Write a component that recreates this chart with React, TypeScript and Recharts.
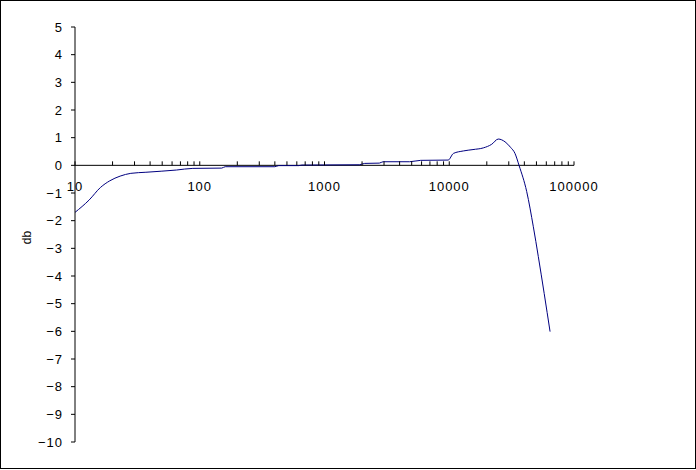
import React from 'react';
import { LineChart, Line, XAxis, YAxis, Scatter, ReferenceLine } from 'recharts';

// measured response (Hz, dB)
const freqs = [
  10, 13, 16, 19, 23, 28, 37, 65, 88, 150, 160, 400, 430, 620, 660, 1900, 2100, 2750, 2950,
  4800, 5900, 9800, 10800, 12970, 15500, 18750, 21880, 24700, 28000, 31000, 33650, 36250,
  41780, 47210, 51760, 64290,
];
const dbValues = [
  -1.7, -1.25, -0.8, -0.56, -0.39, -0.29, -0.25, -0.17, -0.11, -0.1, -0.05, -0.05, -0.01, -0.01,
  0.01, 0.02, 0.07, 0.08, 0.13, 0.13, 0.18, 0.19, 0.43, 0.52, 0.57, 0.63, 0.76, 0.95, 0.85,
  0.65, 0.43, 0.0, -0.95, -2.22, -3.3, -6.01,
];

const yTicks = [-10, -9, -8, -7, -6, -5, -4, -3, -2, -1, 0, 1, 2, 3, 4, 5];
const majorTicks = [10, 100, 1000, 10000, 100000];
const minorTicks = [
  20, 30, 40, 50, 60, 70, 80, 90,
  200, 300, 400, 500, 600, 700, 800, 900,
  2000, 3000, 4000, 5000, 6000, 7000, 8000, 9000,
  20000, 30000, 40000, 50000, 60000, 70000, 80000, 90000,
];

const data = freqs.map((f, i) => ({ f, db: dbValues[i] }));
const minorData = minorTicks.map((f) => ({ f, db: 0 }));
const majorData = majorTicks.map((f) => ({ f, db: 0 }));

const font = '"Liberation Sans", Arial, sans-serif';

const MinorTick = (props: any) => {
  const { cx, cy } = props;
  return <line x1={cx} x2={cx} y1={cy} y2={cy - 4} stroke="#000" strokeWidth={1} />;
};

const MajorTick = (props: any) => {
  const { cx, cy, payload } = props;
  return (
    <g>
      <line x1={cx} x2={cx} y1={cy} y2={cy - 4} stroke="#000" strokeWidth={1} />
      <text
        x={cx}
        y={cy + 21}
        dy="0.355em"
        textAnchor="middle"
        fontSize={13}
        fontFamily={font}
        letterSpacing={1}
        fill="#000"
      >
        {payload.f}
      </text>
    </g>
  );
};

const fmtY = (v: number) => (v < 0 ? '\u2212' + Math.abs(v) : String(v));

const DbLabel = (props: any) => {
  const { viewBox } = props;
  const x = viewBox.x + 27;
  const y = viewBox.y + viewBox.height / 2 + 3;
  return (
    <text
      x={x}
      y={y}
      dy="0.355em"
      textAnchor="middle"
      fontSize={12}
      fontFamily={font}
      fill="#000"
      transform={`rotate(-90, ${x}, ${y})`}
    >
      db
    </text>
  );
};

export default function App() {
  return (
    <div style={{ position: 'relative', width: 696, height: 470, background: '#fff' }}>
      <style>{'body{margin:0}'}</style>
      <LineChart width={696} height={470} data={data} margin={{ top: 27, right: 122, bottom: 28, left: 0 }}>
        <XAxis dataKey="f" type="number" scale="log" domain={[10, 100000]} hide />
        <YAxis
          type="number"
          domain={[-10, 5]}
          ticks={yTicks}
          interval={0}
          width={75}
          tickSize={4}
          tickMargin={8}
          tickFormatter={fmtY}
          axisLine={{ stroke: '#000' }}
          tickLine={{ stroke: '#000' }}
          tick={{ fill: '#000', fontSize: 13, fontFamily: font, letterSpacing: 1 }}
          label={{ content: DbLabel }}
        />
        <ReferenceLine y={0} stroke="#000" strokeWidth={1} />
        <Scatter data={minorData} dataKey="db" shape={MinorTick} isAnimationActive={false} />
        <Scatter data={majorData} dataKey="db" shape={MajorTick} isAnimationActive={false} />
        <Line
          dataKey="db"
          type="monotone"
          stroke="#000080"
          strokeWidth={1}
          dot={false}
          isAnimationActive={false}
        />
      </LineChart>
      <div
        style={{
          position: 'absolute',
          left: 0,
          top: 0,
          width: 696,
          height: 469,
          border: '1px solid #000',
          boxSizing: 'border-box',
          pointerEvents: 'none',
        }}
      />
    </div>
  );
}
